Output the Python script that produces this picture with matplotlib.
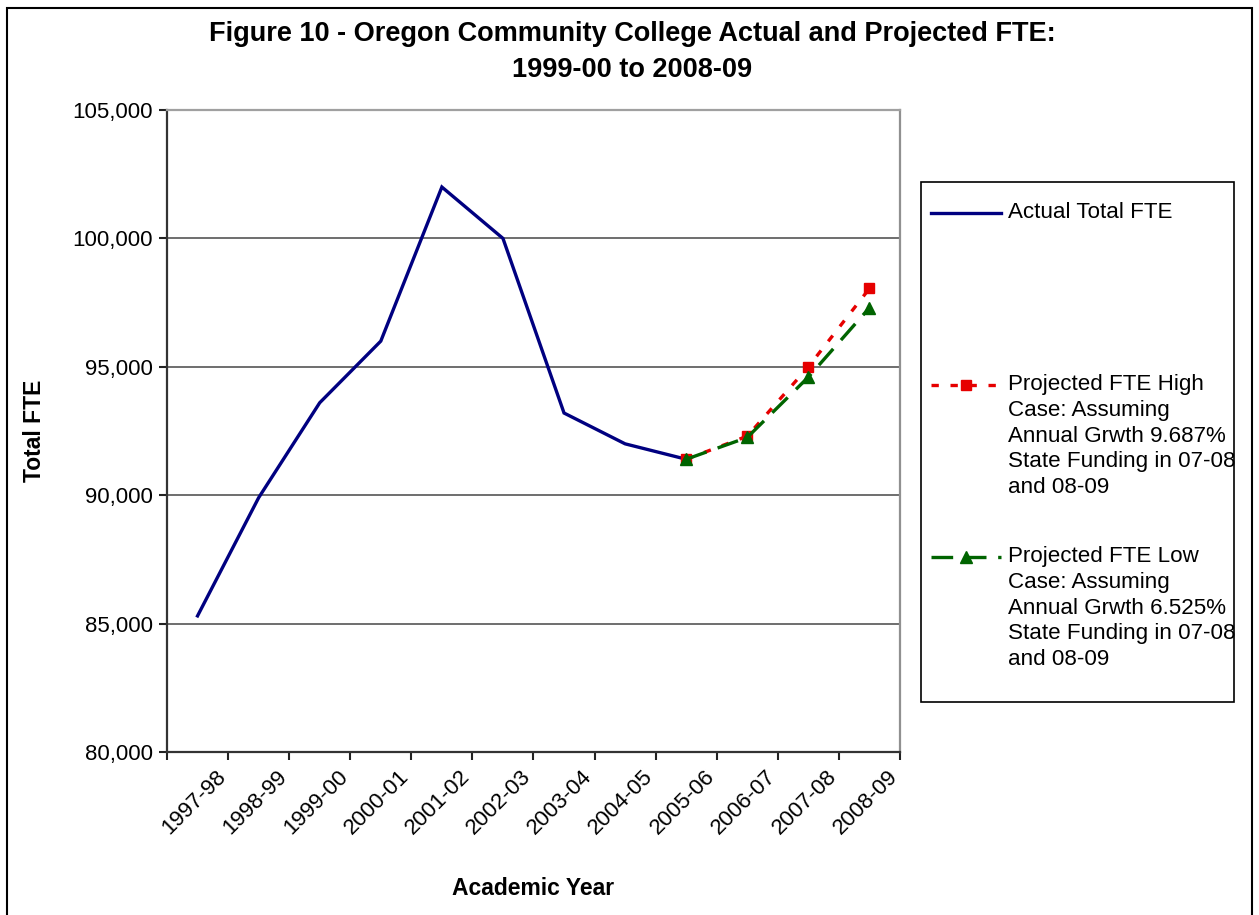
import matplotlib
matplotlib.use("Agg")
import matplotlib.pyplot as plt
from matplotlib.lines import Line2D
from matplotlib.patches import Rectangle
from matplotlib.ticker import FuncFormatter
from matplotlib.transforms import ScaledTranslation

plt.rcParams['font.family'] = ['Liberation Sans', 'DejaVu Sans']

years = ["1997-98", "1998-99", "1999-00", "2000-01", "2001-02", "2002-03",
         "2003-04", "2004-05", "2005-06", "2006-07", "2007-08", "2008-09"]
actual_fte = [85300, 89900, 93600, 96000, 102000, 100000, 93200, 92000, 91400]
high_fte = [91400, 92300, 95000, 98050]
low_fte = [91400, 92250, 94600, 97300]
proj_start = 8

label_actual = "Actual Total FTE"
label_high = ("Projected FTE High\nCase: Assuming\nAnnual Grwth 9.687%\n"
              "State Funding in 07-08\nand 08-09")
label_low = ("Projected FTE Low\nCase: Assuming\nAnnual Grwth 6.525%\n"
             "State Funding in 07-08\nand 08-09")

NAVY = "#000080"
RED = "#e60000"
GREEN = "#006400"
HIGH_DASH = (0, (2.2, 3.5))
LOW_DASH = (0, (6.5, 3.5))
FS = 16

W, H = 1259, 915
fig = plt.figure(figsize=(W / 100, H / 100), dpi=100)
ax = fig.add_axes([167 / W, 1 - 752 / H, (900 - 167) / W, (752 - 110) / H])

x_act = list(range(len(actual_fte)))
x_proj = list(range(proj_start, proj_start + len(high_fte)))

ax.plot(x_act, actual_fte, color=NAVY, lw=2.4, solid_joinstyle="miter", zorder=3)
ax.plot(x_proj, high_fte, color=RED, lw=2.4, ls=HIGH_DASH,
        marker="s", ms=7.5, mec=RED, mfc=RED, zorder=4)
ax.plot(x_proj, low_fte, color=GREEN, lw=2.4, ls=LOW_DASH,
        marker="^", ms=9, mec=GREEN, mfc=GREEN, zorder=5)

ax.set_xlim(-0.5, len(years) - 0.5)
ax.set_ylim(80000, 105000)
ax.set_yticks(range(80000, 105001, 5000))
ax.yaxis.set_major_formatter(FuncFormatter(lambda v, p: f"{int(v):,}"))
ax.grid(axis="y", color="#555555", lw=1.2)
ax.set_axisbelow(True)

# tick marks at category boundaries, labels at category centres
ax.set_xticks([i - 0.5 for i in range(len(years) + 1)])
ax.set_xticklabels([])
ax.set_xticks(range(len(years)), minor=True)
ax.set_xticklabels(years, minor=True, rotation=45, ha="right", va="center",
                   rotation_mode="anchor", fontsize=FS)
ax.tick_params(axis="x", which="minor", length=0, pad=14)
ax.tick_params(axis="x", which="major", length=6, width=1.5, direction="out",
               color="#222222")
ax.tick_params(axis="y", length=6, width=1.5, direction="out", labelsize=FS,
               color="#222222", pad=4)
shift = ScaledTranslation(25 / 100, -2 / 100, fig.dpi_scale_trans)
for lab in ax.get_xticklabels(minor=True):
    lab.set_transform(lab.get_transform() + shift)

for side in ["left", "bottom"]:
    ax.spines[side].set_color("#333333")
    ax.spines[side].set_linewidth(1.6)
ax.spines["top"].set_color("#a0a0a0")
ax.spines["top"].set_linewidth(1.6)
ax.spines["right"].set_color("#909090")
ax.spines["right"].set_linewidth(1.6)

ax.set_ylabel("Total FTE", fontsize=16.5, fontweight="bold")
ax.yaxis.set_label_coords((46 - 167) / 733, 0.5)
ax.set_xlabel("Academic Year", fontsize=16.5, fontweight="bold")
ax.xaxis.set_label_coords(0.5, (752 - 877) / 642)

fig.text(632 / W, 1 - 34 / H, "Figure 10 - Oregon Community College Actual and Projected FTE:",
         ha="center", va="center", fontsize=19.5, fontweight="bold")
fig.text(632 / W, 1 - 70 / H, "1999-00 to 2008-09",
         ha="center", va="center", fontsize=19.5, fontweight="bold")

# legend box
fig.add_artist(Rectangle((921 / W, 1 - 702 / H), (1234 - 921) / W, (702 - 182) / H,
                         transform=fig.transFigure, fill=False, ec="black", lw=1.2))
entries = [
    (213, label_actual, dict(color=NAVY, ls="-")),
    (385, label_high, dict(color=RED, ls=HIGH_DASH, marker="s", ms=7.5,
                           markevery=[1])),
    (557, label_low, dict(color=GREEN, ls=LOW_DASH, marker="^", ms=9,
                          markevery=[1])),
]
for y, text, style in entries:
    fy = 1 - y / H
    fig.add_artist(Line2D([931 / W, 966 / W, 1001 / W], [fy, fy, fy], lw=2.4,
                          transform=fig.transFigure, **style))
    fig.text(1008 / W, fy + 11 / H, text, ha="left", va="top", fontsize=16.1,
             linespacing=1.3)

# outer chart border
fig.add_artist(Rectangle((7 / W, -0.05), (1252 - 7) / W, 1.05 - 8 / H,
                         transform=fig.transFigure, fill=False, ec="black", lw=1.5))

fig.savefig("out.png", dpi=100)
